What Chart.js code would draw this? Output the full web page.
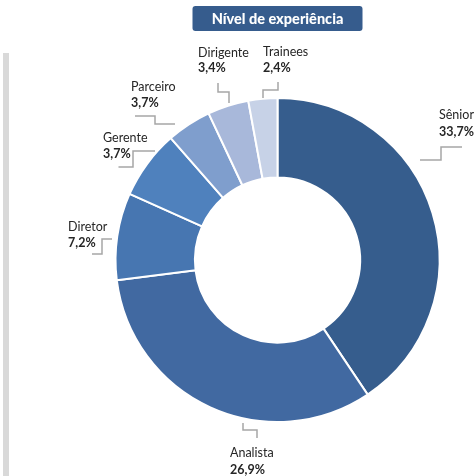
<!DOCTYPE html>
<html>
<head>
<meta charset="utf-8">
<script src="https://cdn.jsdelivr.net/npm/chart.js@4.4.0/dist/chart.umd.min.js"></script>
<style>
    html, body { margin: 0; padding: 0; background: #fff; }
    #wrap { position: relative; width: 475px; height: 476px; }
    #sidebar { position: absolute; left: 3px; top: 53px; width: 6px; height: 423px; background: #d9d9d9; }
</style>
</head>
<body>
<div id="wrap">
    <div id="sidebar"></div>
    <canvas id="experiencia" width="475" height="476"></canvas>
</div>
<script>
const chartTitle = "Nível de experiência";
const categories = ["Sênior", "Analista", "Diretor", "Gerente", "Parceiro", "Dirigente", "Trainees"];
// slice sizes as they appear in the picture
const sliceValues = [33.7, 26.9, 7.2, 5.7, 3.7, 3.4, 2.4];
// percentages printed next to each slice
const shownPct = ["33,7%", "26,9%", "7,2%", "3,7%", "3,7%", "3,4%", "2,4%"];
const sliceColours = ["#365D8D", "#4169A1", "#4776B1", "#4F81BD", "#7F9ECD", "#A8B8DA", "#C7D2E7"];

// label layout, relative to the doughnut centre: text left x, two line centres, leader path
const labelLayout = [
    { x: 161.5, y1: -145, y2: -128, leader: [[142.5, -100], [163.5, -100], [163.5, -113], [184.5, -113]] },
    { x: -47.5, y1: 193, y2: 210, leader: [[-34.5, 163], [-34.5, 170], [-20.5, 170], [-20.5, 178]] },
    { x: -209.5, y1: -33, y2: -17, leader: [[-185.5, -6], [-175.5, -6], [-175.5, -21], [-165.5, -21]] },
    { x: -174.5, y1: -122, y2: -106, leader: [[-159, -93], [-144.5, -93], [-144.5, -109], [-122.5, -109]] },
    { x: -146.5, y1: -173, y2: -157, leader: [[-142.5, -144], [-122.5, -144], [-122.5, -136], [-102.5, -136]] },
    { x: -79.5, y1: -207, y2: -192, leader: [[-59.5, -177], [-59.5, -168], [-48.5, -168], [-48.5, -157]] },
    { x: -14.5, y1: -208, y2: -192, leader: [[0.5, -178], [0.5, -170], [-14.5, -170], [-14.5, -162]] }
];

const labelsPlugin = {
    id: "labelsPlugin",
    afterDraw(chart) {
        const ctx = chart.ctx;
        const arcs = chart.getDatasetMeta(0).data;
        const cx = arcs[0].x;
        const cy = arcs[0].y;

        // title box
        ctx.save();
        const bw = 170, bh = 25;
        const bx = cx - bw / 2, by = 6;
        ctx.fillStyle = "#365C8D";
        ctx.beginPath();
        ctx.roundRect(bx, by, bw, bh, 3);
        ctx.fill();
        ctx.fillStyle = "#ffffff";
        ctx.font = "900 14.5px Lato";
        ctx.textAlign = "center";
        ctx.textBaseline = "middle";
        ctx.fillText(chartTitle, cx, by + bh / 2 + 1);
        ctx.restore();

        categories.forEach(function (cat, i) {
            const lay = labelLayout[i];
            ctx.save();
            ctx.strokeStyle = "#a6a6a6";
            ctx.lineWidth = 1.5;
            ctx.beginPath();
            lay.leader.forEach(function (p, k) {
                if (k === 0) ctx.moveTo(cx + p[0], cy + p[1]);
                else ctx.lineTo(cx + p[0], cy + p[1]);
            });
            ctx.stroke();

            ctx.fillStyle = "#262626";
            ctx.textAlign = "left";
            ctx.textBaseline = "middle";
            ctx.font = "12.5px Lato";
            ctx.fillText(cat, cx + lay.x, cy + lay.y1);
            ctx.font = "bold 12.5px Lato";
            ctx.fillText(shownPct[i], cx + lay.x, cy + lay.y2);
            ctx.restore();
        });
    }
};

new Chart(document.getElementById("experiencia"), {
    type: "doughnut",
    data: {
        labels: categories,
        datasets: [{
            data: sliceValues,
            backgroundColor: sliceColours,
            borderColor: "#ffffff",
            borderWidth: 2
        }]
    },
    options: {
        responsive: false,
        animation: false,
        events: [],
        cutout: "51%",
        layout: { padding: { left: 114, right: 34, top: 97, bottom: 53 } },
        plugins: {
            legend: { display: false },
            tooltip: { enabled: false }
        }
    },
    plugins: [labelsPlugin]
});
</script>
</body>
</html>
